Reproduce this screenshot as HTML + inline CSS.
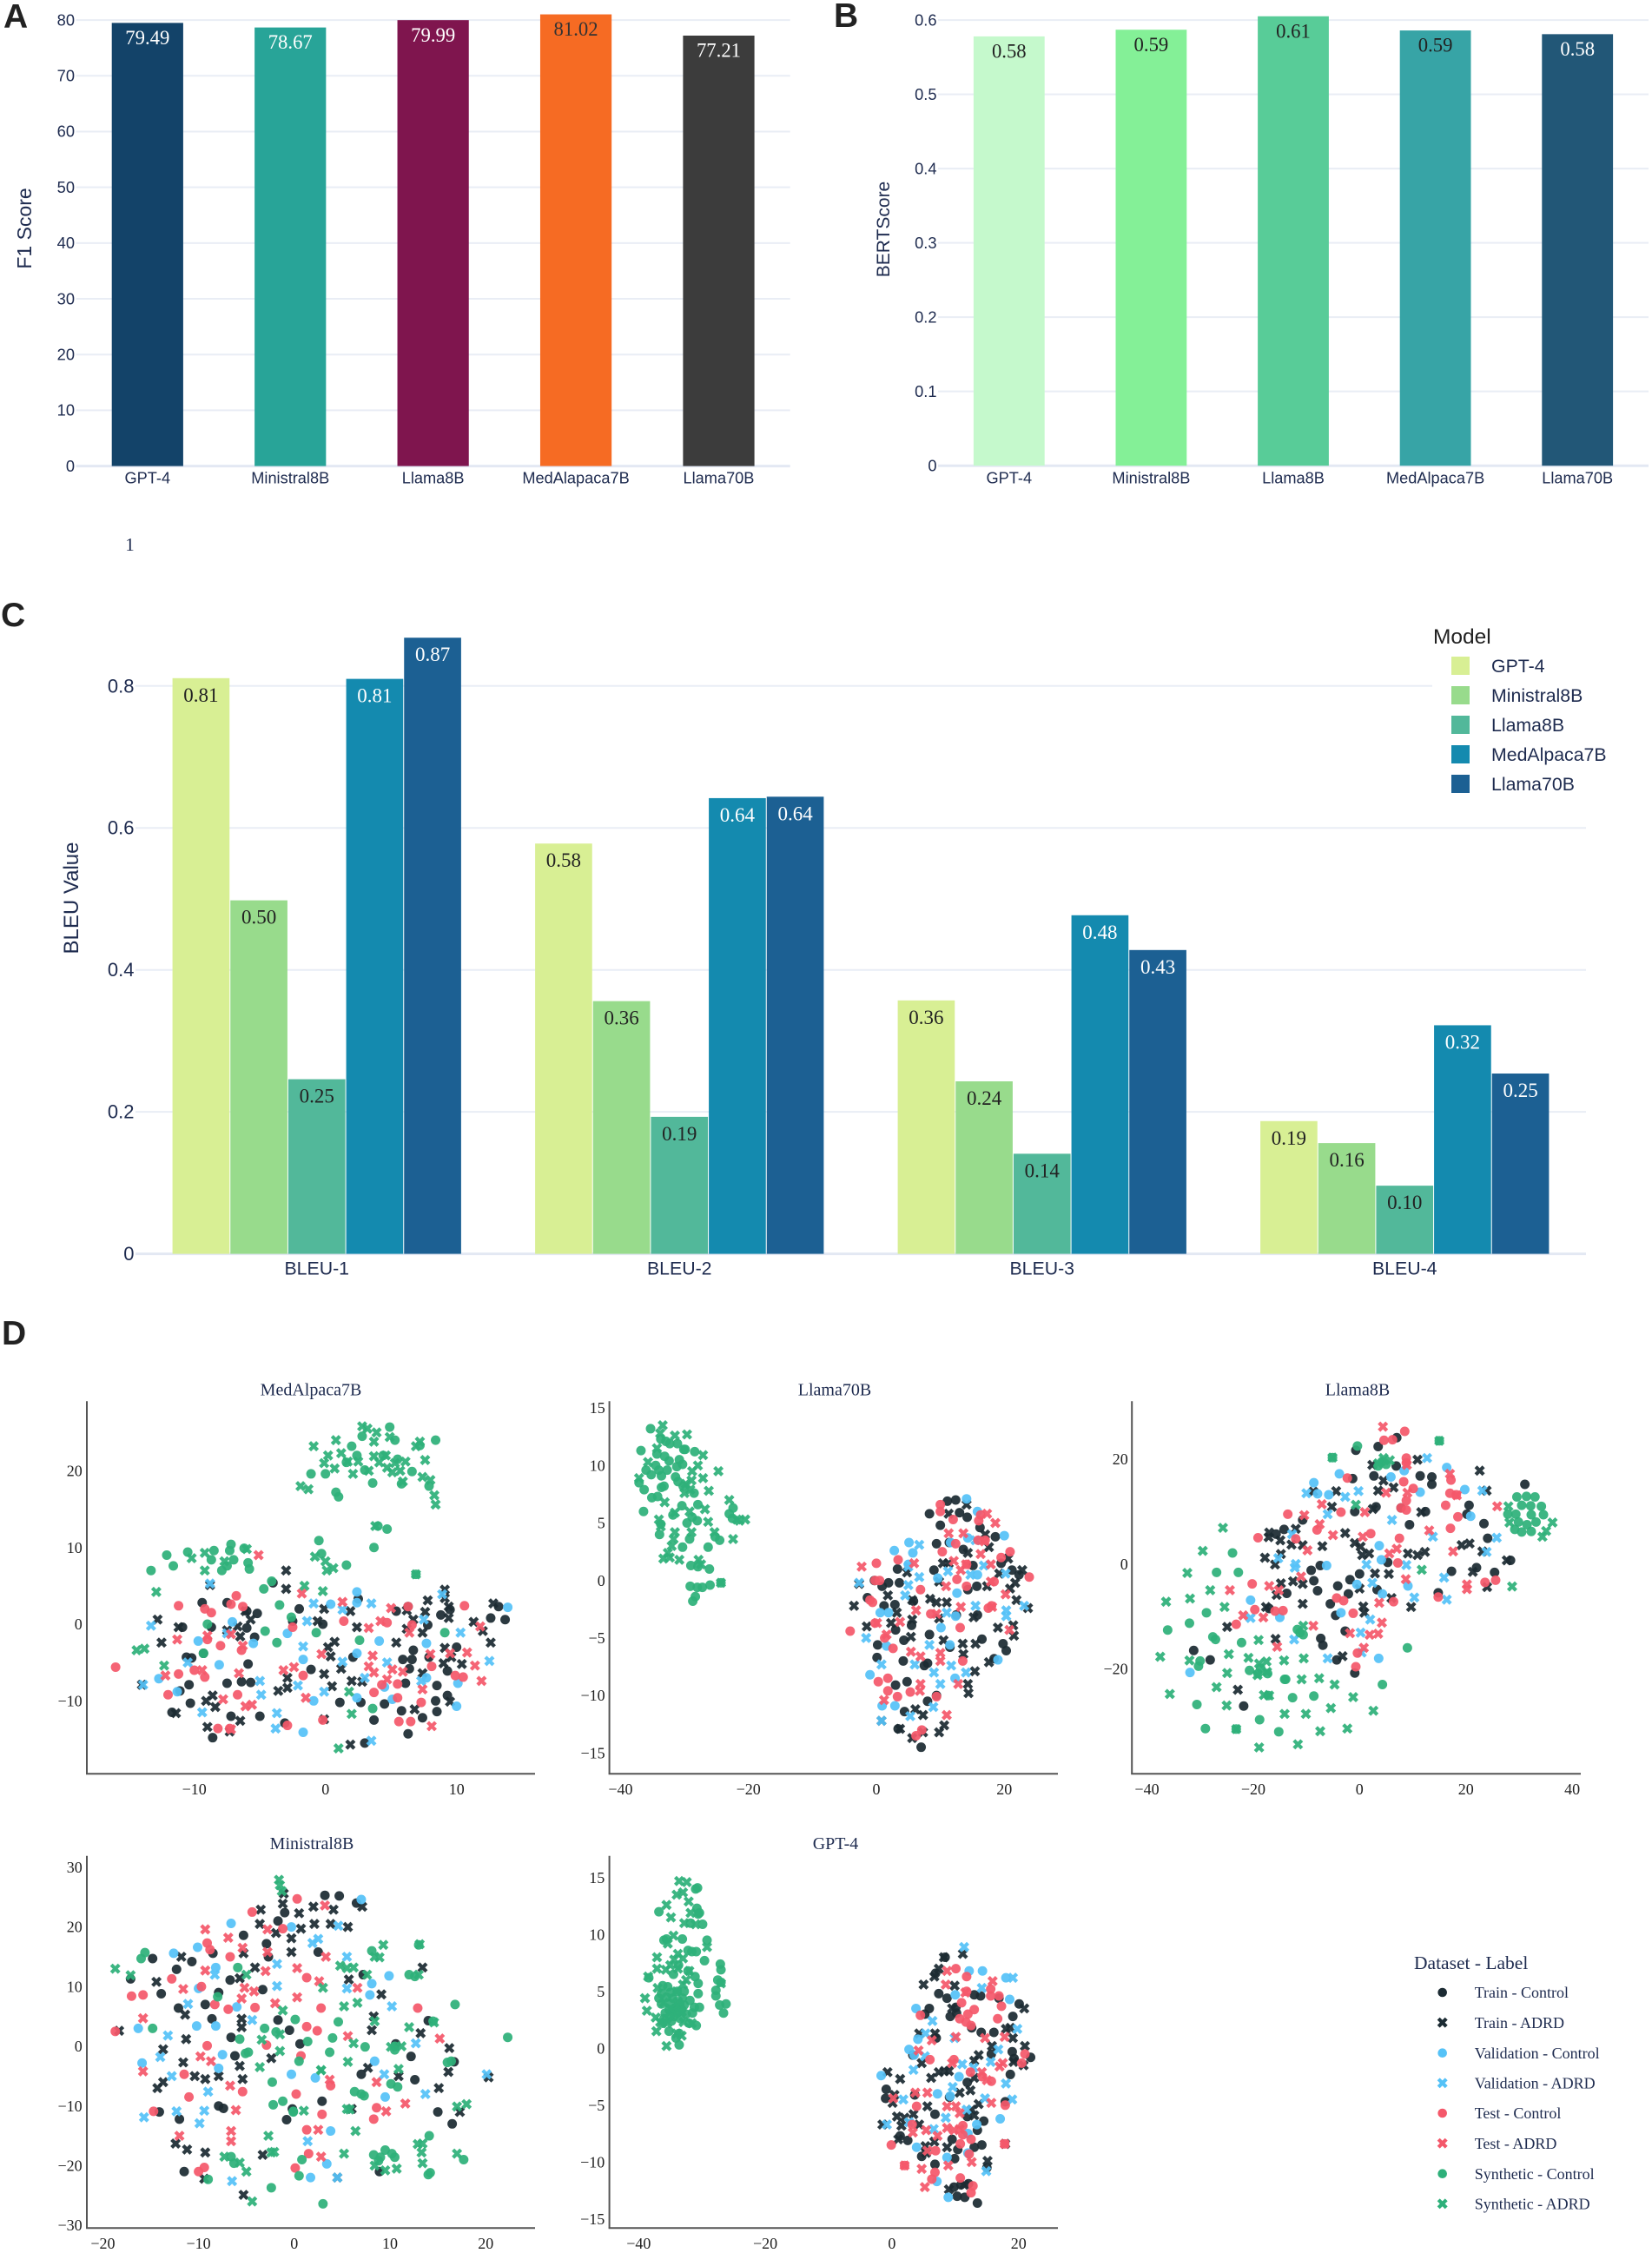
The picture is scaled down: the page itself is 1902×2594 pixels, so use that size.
<!DOCTYPE html>
<html lang="en">
<head>
<meta charset="utf-8">
<title>Model evaluation figure</title>
<style>
html,body{margin:0;padding:0;background:#fff}
svg{display:block}
.panel-letter{font-family:"Liberation Sans",sans-serif;font-weight:700;font-size:39px;fill:#222}
.sans-title{font-family:"Liberation Sans",sans-serif;fill:#1e2b4f}
.serif-title{font-family:"Liberation Serif",serif;fill:#1e2b4f;font-size:20px;text-anchor:middle}
.legend-text{font-family:"Liberation Sans",sans-serif;font-size:21.3px;fill:#1e2b4f}
.dlegend-text{font-family:"Liberation Serif",serif;font-size:18px;fill:#1e2b4f}
</style>
</head>
<body>
<svg id="figure" xmlns="http://www.w3.org/2000/svg" width="1902" height="2594" viewBox="0 0 1902 2594">
<rect x="0" y="0" width="1902" height="2594" fill="#fff"/>
<g id="charts"></g>
<text class="panel-letter" x="4" y="32">A</text>
<text class="panel-letter" x="960" y="31">B</text>
<text class="panel-letter" x="1" y="721">C</text>
<text class="panel-letter" x="2" y="1548">D</text>
<text x="149.5" y="634" font-family="Liberation Serif, serif" font-size="21" fill="#1e2b4f" text-anchor="middle">1</text>
<text class="sans-title" font-size="23" text-anchor="middle" transform="translate(36,263) rotate(-90)">F1 Score</text>
<text class="sans-title" font-size="21" text-anchor="middle" transform="translate(1024,264) rotate(-90)">BERTScore</text>
<text class="sans-title" font-size="24" text-anchor="middle" transform="translate(90,1034) rotate(-90)">BLEU Value</text>
<g id="bleu-legend">
<rect x="1649" y="715" width="200" height="205" fill="#fff"/>
<text x="1650" y="741" font-family="Liberation Sans, sans-serif" font-size="24.5" fill="#222">Model</text>
<rect x="1671" y="756" width="21" height="21" fill="#d8ef94"/>
<text class="legend-text" x="1717" y="774">GPT-4</text>
<rect x="1671" y="790" width="21" height="21" fill="#98db8c"/>
<text class="legend-text" x="1717" y="808">Ministral8B</text>
<rect x="1671" y="824" width="21" height="21" fill="#52b89a"/>
<text class="legend-text" x="1717" y="842">Llama8B</text>
<rect x="1671" y="858" width="21" height="21" fill="#148aaf"/>
<text class="legend-text" x="1717" y="876">MedAlpaca7B</text>
<rect x="1671" y="892" width="21" height="21" fill="#1c6093"/>
<text class="legend-text" x="1717" y="910">Llama70B</text>
</g>
<text class="serif-title" x="358" y="1606.5">MedAlpaca7B</text>
<text class="serif-title" x="961" y="1606.5">Llama70B</text>
<text class="serif-title" x="1563" y="1606.5">Llama8B</text>
<text class="serif-title" x="359" y="2129">Ministral8B</text>
<text class="serif-title" x="962" y="2129">GPT-4</text>
<g id="dataset-legend">
<text x="1628" y="2267" font-family="Liberation Serif, serif" font-size="21.5" fill="#1e2b4f">Dataset - Label</text>
<circle cx="1660.7" cy="2294" r="5.3" fill="#1c2b33"/>
<text class="dlegend-text" x="1697.7" y="2300">Train - Control</text>
<path d="M1656.2 2324.2L1665.2 2333.2M1656.2 2333.2L1665.2 2324.2" stroke="#1c2b33" stroke-width="4.2" fill="none"/>
<text class="dlegend-text" x="1697.7" y="2335">Train - ADRD</text>
<circle cx="1660.7" cy="2363.7" r="5.3" fill="#55c2f7"/>
<text class="dlegend-text" x="1697.7" y="2370">Validation - Control</text>
<path d="M1656.2 2393.8L1665.2 2402.8M1656.2 2402.8L1665.2 2393.8" stroke="#55c2f7" stroke-width="4.2" fill="none"/>
<text class="dlegend-text" x="1697.7" y="2404.5">Validation - ADRD</text>
<circle cx="1660.7" cy="2433" r="5.3" fill="#f4586a"/>
<text class="dlegend-text" x="1697.7" y="2439">Test - Control</text>
<path d="M1656.2 2463.2L1665.2 2472.2M1656.2 2472.2L1665.2 2463.2" stroke="#f4586a" stroke-width="4.2" fill="none"/>
<text class="dlegend-text" x="1697.7" y="2474">Test - ADRD</text>
<circle cx="1660.7" cy="2502.7" r="5.3" fill="#2eb07a"/>
<text class="dlegend-text" x="1697.7" y="2509">Synthetic - Control</text>
<path d="M1656.2 2532.8L1665.2 2541.8M1656.2 2541.8L1665.2 2532.8" stroke="#2eb07a" stroke-width="4.2" fill="none"/>
<text class="dlegend-text" x="1697.7" y="2543.5">Synthetic - ADRD</text>
</g>
</svg>
<script>
/* ---------- Panel A ---------- */
const f1Categories=['GPT-4','Ministral8B','Llama8B','MedAlapaca7B','Llama70B'];
const f1Values=[79.49,78.67,79.99,81.02,77.21];
const f1Ticks=[0,10,20,30,40,50,60,70,80];
/* ---------- Panel B ---------- */
const bertCategories=['GPT-4','Ministral8B','Llama8B','MedAlpaca7B','Llama70B'];
const bertValues=[0.578,0.587,0.6051,0.586,0.581];
const bertTicks=[0,0.1,0.2,0.3,0.4,0.5,0.6];
/* ---------- Panel C ---------- */
const bleuCategories=['BLEU-1','BLEU-2','BLEU-3','BLEU-4'];
const bleuGpt4=[0.811,0.578,0.357,0.187];
const bleuMinistral8b=[0.498,0.356,0.243,0.156];
const bleuLlama8b=[0.246,0.193,0.141,0.096];
const bleuMedAlpaca7b=[0.81,0.642,0.477,0.322];
const bleuLlama70b=[0.868,0.644,0.428,0.254];
const bleuTicks=[0,0.2,0.4,0.6,0.8];
/* ---------- Panel D: MedAlpaca7B ---------- */
const medTicksX=[-10,0,10];
const medTicksY=[-10,0,10,20];
const medTrainControl=[[-10.9,-.4],[-9.4,2.8],[-7.5,2.8],[-6,1.7],[-5.2,1.4],[-6,-.5],[-8.7,-.4],[-5.4,-1.7],[-10.6,-4.3],[-10.2,-4.4],[-9.3,-3.8],[-5.9,-5.2],[-10.4,-7.9],[-7.5,-7.7],[-6.4,-7.5],[-5.7,-7.6],[-11.1,-8.7],[-10.3,-10.3],[-11.7,-11.5],[-7.2,-12],[-5,-12],[-8.6,-14.8],[-3.1,-12.9],[-2,2],[-4,5.4],[-2.5,.4],[-.2,0],[2.5,3.3],[-1.1,-5.9],[2.1,-4.3],[1.1,-10.2],[2.7,-10.2],[3.7,-12.5],[3,-15.5],[4.5,-10.4],[5.4,1.7],[5.9,-4.6],[6.6,-4.6],[6.7,-3.4],[6.4,-5.8],[6.1,-7.7],[5.8,-11.3],[6.3,-14.3],[7.4,-12.2],[7.8,-.1],[7.9,-4.3],[8.5,-8],[8.4,-10],[8.5,-11.4],[8.8,1.2],[9.3,-9.3],[9.3,-6.1],[10,-3],[12.6,.8],[13.2,2.3],[13.7,.6],[9.5,1.9],[6.3,2.3]];
const medTrainAdrd=[[-12.8,.6],[-11.2,-.4],[-12.5,-2.4],[-8.8,5.1],[-3,7],[-3,4.6],[-.1,2],[-.6,.4],[1.9,1.7],[2.4,-.4],[-6.7,-.3],[-7.5,-.8],[-6.5,-1.6],[-5.7,.6],[-6.1,1.7],[.7,-2.3],[.2,-3],[.4,-4.2],[1.2,-5.8],[-.1,-6.5],[.5,-8.1],[2,-7.4],[2.8,-7.5],[-2.9,-7],[-3.6,-8.7],[-2.9,-8.3],[-8.6,-9.3],[-9.1,-10],[-8.4,-10.8],[-11.4,-11.6],[-9,-13.4],[-7.3,-14],[-6.5,-12.6],[-13.995,-7.9],[1.9,-15.7],[5.4,-2.4],[6.2,1.8],[6.7,.6],[6.2,-.6],[7.6,1.6],[7.8,3.1],[7.4,-1.1],[9.1,-3.1],[9.6,-4.3],[9,-5.1],[10.4,-5.2],[7.4,-6.4],[6.8,-11.1],[9.5,-10.1],[11.3,.3],[12,-.9],[12.6,-2.4],[12.8,2.7],[9.1,4.5],[9.1,3.4],[9.4,2.3],[9.4,.8],[-.1,-12.4]];
const medValControl=[[-7.1,.3],[-9.7,-2.2],[-8.1,-5.3],[-5.5,-2.5],[-12.7,-7.1],[-11.3,-8.8],[-2.9,-1.2],[.4,2.6],[-1.7,-4.6],[-.9,-10],[-1.7,-14.1],[2.4,4.2],[2.4,2.8],[2.4,-3.8],[4.1,-2.2],[7.7,-2.5],[7.7,-7],[4.5,-8.2],[2.4,-9.6],[5.1,-9.8],[10.1,-7.7],[13.9,2.2],[10,-10.7]];
const medValAdrd=[[-13.3,-.2],[-8.8,5.3],[-7.5,-1.2],[-13.9,-7.9],[-10.5,-5],[-9.4,-11.5],[-5,-7.4],[-4.9,-9.2],[-3.7,-11.6],[-3.8,-13.6],[-1.7,-2.9],[-1.4,.4],[-.9,2.7],[-2.1,-8],[-.1,-8.8],[1.3,1.9],[1.3,-4.9],[3.5,2.7],[3,-7],[4.7,-5],[3.5,-15.2],[7.5,.6],[8.9,3.9],[10.3,-1.1],[12.5,-4.8],[7.3,-7.4]];
const medTestControl=[[-16,-5.6],[-11.2,2.4],[-9.2,2],[-8.7,1.5],[-6.8,3.7],[-7.2,2.6],[-6.3,2.3],[-9,-2],[-8,-2.8],[-6.4,-3.4],[-2.5,-.4],[-11.2,-6.5],[-10,-6],[-9.2,-6.9],[-12,-9.2],[-6.7,-9.2],[-8.2,-13.6],[-7.3,-13.6],[-2.9,-13.2],[-1.7,-6.7],[-.2,-12.5],[1.4,.4],[6.3,2.3],[4.7,.2],[6.6,-.1],[8.1,-5.5],[4.3,-7.9],[5.5,-7.8],[3.7,-8.9],[5.5,-9.6],[7.3,-10.2],[5.6,-12.7],[6.5,-12.7],[9.9,-6.7],[10.5,-6.9],[10.6,2.4]];
const medTestAdrd=[[-5.1,9],[-1.8,4],[1.3,2.9],[5,2.1],[3.3,-.5],[4.2,.4],[6.4,-1.1],[9.5,-3.8],[11.8,-.3],[10.8,-3.7],[11.4,-5.4],[11.9,-7.4],[8,-3.9],[3.6,-4.1],[3.3,-5.5],[3.7,-6.3],[5.1,-5.9],[5.9,-6.2],[4.7,-7.2],[7.4,-8.5],[8.1,-13.3],[-.3,-3.9],[-3.2,-6],[-2.4,-5.6],[-1.5,-9.6],[-5.6,-10.5],[-6.1,-10.7],[-7.8,-9.8],[-6.6,-6.4],[-7.2,-13.7],[-12.2,-6.7],[-9.4,-6],[-11.3,-2],[-9,-1.5],[-7.2,-1.3],[-6.3,-2.8]];
const medSynthControl=[[-13.3,7],[-12.1,9],[-11.6,7.6],[-10.5,9.4],[-8.7,8.4],[-8.5,9.6],[-7.9,7],[-7.5,7.6],[-7,8.4],[-7.2,10.4],[-7.3,9.6],[-6.2,9.9],[-5.9,8],[-5.8,7.2],[-4.1,5.6],[-4.7,4.6],[-3.5,2.5],[-2.6,.9],[-9,0],[-4.6,-.9],[-3.7,-2.4],[-.7,-1.1],[-9.3,-3.8],[-.5,10.9],[-.3,9.2],[1.6,7.7],[3.7,10],[4.7,12.4],[4,12.8],[6.9,6.5],[2.6,-2.1],[9.1,-1.1],[3.6,-11],[-1.1,19.6],[0,19.6],[.8,17.2],[1,16.6],[2,23.2],[2.8,24.5],[4.9,25.7],[5.3,24],[3.6,18.4],[5.8,18.3],[8.4,24],[6.6,19.9],[7.2,23.3],[7.9,18],[3,20.1],[1.6,21.1],[2.4,22],[4.4,22],[5.5,21.5]];
const medSynthAdrd=[[-14.4,-3.4],[-13.8,-3.2],[-12.9,4.2],[-12.3,-5.4],[-10.2,8.6],[-9.2,9.3],[-9.2,7],[-7.7,8.2],[-6,9.8],[-1.6,5],[-.2,4.3],[-.8,8.8],[0,8.2],[.1,7],[.6,7.3],[1.8,-8.8],[2,-11.7],[1,-16.2],[-.9,23.2],[.8,24],[.2,22],[-.1,21],[.7,20.3],[1.2,22.3],[2.1,19.6],[2.8,25.8],[3.2,25.5],[3.9,25],[3.7,23.8],[4.9,24.4],[3.7,21.9],[4.1,21.1],[4.7,20.4],[5.1,19.8],[5.7,20],[6.1,21.2],[7.2,23.8],[6.9,23.2],[7.6,21.4],[7.4,19.2],[8,18.8],[5.9,18.6],[-1.9,18],[-1.3,17.6],[8.3,16.8],[8.4,15.6],[3.8,12.8],[6.9,6.5],[3.3,20],[2.5,21.2],[4.6,22],[5.3,21],[1.7,21.2]];
/* ---------- Panel D: Llama70B ---------- */
const l70TicksX=[-40,-20,0,20];
const l70TicksY=[-15,-10,-5,0,5,10,15];
const l70TrainControl=[[11.1,6.9],[12.4,7],[8.3,5.8],[13,5.9],[14.2,5.5],[10,4.8],[16.2,4.6],[18.6,3.8],[9.4,3.2],[11.4,3.3],[13.6,2.7],[9,.9],[15.1,1.3],[19.5,1.5],[21.2,.9],[22.3,.5],[3.3,1],[-.3,0],[.9,-.5],[1.9,-.2],[3.6,-.2],[14.3,-.8],[15.7,-.5],[-1.4,-1.5],[1.2,-2.2],[2.9,-2.1],[5.8,-1.8],[12.5,-3],[15.8,-3],[5.5,-3.9],[3,-4.3],[8.3,-4.7],[4.3,-5.2],[.2,-5.6],[16.5,-5.1],[11.5,-5.8],[19.8,-5.5],[20.3,-6.1],[.1,-6.7],[4.2,-7],[8,-7.2],[7.5,-7.4],[3,-9.1],[4.8,-8.8],[9.4,-10],[8,-10.5],[4.4,-11.4],[3.4,-12.9],[7,-14.5],[18.4,-6.8]];
const l70TrainAdrd=[[-3.5,-2.2],[-1.5,-4],[1.8,-1.3],[4.8,.7],[5.6,-1.7],[3.2,-2.8],[2.3,-3.7],[5.6,-3.4],[5.4,-4.9],[9.8,-3.3],[8.4,-1.6],[9.4,-1.9],[11,-1.9],[11.3,5.8],[14.1,6.6],[17,4],[17.6,2.9],[14.3,2.4],[10.4,1.5],[11.3,1.5],[9.8,-.1],[17.3,-.5],[19.2,.6],[20.9,-.7],[21.7,-.2],[22.8,.9],[20.6,1.9],[21.9,-1.7],[23.7,-2.4],[15.2,-3.2],[19,-4.1],[21.4,-3.9],[21.5,-4.8],[10.5,-5.2],[13.5,-5.5],[15.5,-5.5],[13.6,-6.4],[17.6,-7.1],[15.4,-7.9],[14.3,-9],[14.4,-9.8],[10.6,-12.6],[9.8,-13.2],[7.3,-11.7],[6.1,-11.2],[5.6,-13.7],[7.3,-13.2],[3.7,-12.9],[.8,-12.2],[-2.7,-.3]];
const l70ValControl=[[14.1,7.1],[15.8,6],[14.3,3.7],[20,3.9],[11.6,3.3],[5.1,3.3],[2.8,2.6],[5.7,2.4],[5,1.4],[9.6,.2],[12.6,-1.1],[15.8,.5],[.6,-2.8],[1.9,-2.8],[12.4,-3.1],[10.1,-4.1],[11.5,-5.6],[1.6,-5.7],[19,-6.9],[-1,-8.2],[12.3,-8.5],[.9,-10.9],[2.9,-10.9]];
const l70ValAdrd=[[6.7,3.1],[5,1.2],[6.7,.3],[5,-.4],[4.5,-1.3],[-2.7,-.2],[11.2,.8],[14.7,.5],[15.5,3.5],[16.8,1.3],[20.2,.6],[15.5,-2.2],[11,-2.8],[20.3,-2.6],[20.3,-3.1],[23.1,-2.2],[-1.6,-5],[8.3,-5.6],[.8,-7.3],[6,-7.3],[11.7,-7.4],[9,-8],[14,-8],[10,-9],[8.9,-11],[.8,-12.2],[5.3,-11.8]];
const l70TestControl=[[-4.1,-4.4],[0,1.5],[3.4,1.8],[-.2,0],[.5,0],[-1,-1.7],[-.6,-1.9],[-.2,-3.7],[1.3,-5],[2.6,-5.9],[6.9,-.8],[8.5,-2.9],[10,6.6],[10,6],[12,5.3],[16.3,5.7],[16,5.2],[15.9,3.5],[17,3.5],[12.4,3.2],[10.3,2.5],[12.6,.1],[14.1,1.4],[14.1,-.5],[18.4,-.1],[18,-2.2],[17.5,-2.4],[13.1,-4.1],[20.9,2.5],[19.5,2],[23.9,.3],[13.5,-7],[.3,-8.8],[1.8,-8.5],[1.8,-9.6],[3.3,-10.1],[5.3,-9.7],[9.4,-10.1],[7.1,-13],[6.2,-13.5]];
const l70TestAdrd=[[-2.3,1.2],[.1,-3.7],[1.6,-4.7],[3.7,-3.6],[6.2,-2.6],[9.4,-2.9],[13.2,-2.3],[18.1,-2.3],[10.9,-.5],[17.9,-.1],[20.2,-1.2],[20.8,-4.3],[5.9,1.5],[11.3,4.1],[13.6,4.1],[17.3,5.8],[18.6,5],[16.9,3.4],[16.3,2.3],[12.1,1.7],[14,1.4],[13.2,.9],[17.9,1.4],[5.4,-6.2],[6.9,-6.6],[10,-6.3],[10,-7],[1.2,-10.4],[6.9,-9],[6.8,-9.6],[12.8,-9],[11,-11.7]];
const l70SynthControl=[[-35.3,13.2],[-33.7,12.3],[-32.9,12.1],[-36.8,11.3],[-34.3,11],[-32.3,11.9],[-31.1,11.9],[-30.1,11.4],[-29.9,11.4],[-28.4,11.2],[-33.1,10.8],[-32.4,10.4],[-30.8,10.5],[-30.3,10.1],[-31.2,9.9],[-34.5,10],[-34,9.6],[-36,9.6],[-33.6,9.1],[-35.2,9.2],[-32.7,9.6],[-31.4,9],[-31,8.6],[-30.2,8.2],[-33.6,8.1],[-33.2,8.2],[-36.3,7.9],[-35.1,7.2],[-34.2,7.3],[-28.5,7.6],[-36.4,6],[-30.4,6.5],[-27.9,6.6],[-22.4,6.3],[-23,5.8],[-31.8,5.7],[-28,5.2],[-28.8,5.5],[-29.6,5],[-33.7,4.9],[-33.9,4],[-25.2,3.8],[-24.5,3.5],[-29.2,3.6],[-26.3,2.9],[-30.3,2.9],[-29,1.3],[-27.9,1.2],[-26.1,1],[-29.1,-.5],[-28,-.6],[-27.2,-.6],[-26,-.4],[-24.3,-.2],[-28.3,-1.4],[-28.7,-1.8],[-22.5,5.4],[-37.1,8.5]];
const l70SynthAdrd=[[-33.4,13.5],[-33.8,12.8],[-31.5,12.6],[-29.6,12.7],[-34.3,11.5],[-27.1,10.9],[-27.9,10],[-28.8,9.5],[-37.1,8.9],[-35.7,10.3],[-28.9,8.7],[-27.1,8.9],[-29.8,8.4],[-29.1,7.9],[-30,7.6],[-26.2,7.8],[-24.7,9.5],[-23,7],[-33.1,6.8],[-31.5,5.9],[-26.8,6.2],[-29.2,6],[-34,5.3],[-33.7,4.7],[-26.3,5.1],[-31.5,4.2],[-28.9,4.2],[-25.3,4.2],[-22.4,3.6],[-31.7,3.6],[-32,3],[-32.6,2.4],[-33.3,1.9],[-32.3,2],[-30.8,1.8],[-27.8,1.8],[-27.4,1.4],[-24.3,-.2],[-21.8,5.3],[-20.5,5.3],[-21.4,5.2]];
/* ---------- Panel D: Llama8B ---------- */
const l8TicksX=[-40,-20,0,20,40];
const l8TicksY=[-20,0,20];
const l8TrainControl=[[3.5,22.4],[7,24.1],[-.7,21.7],[-1.3,16.3],[2.7,16.8],[6.9,18.7],[11.4,16.8],[13.6,16.6],[13.6,15.2],[31.1,15.2],[20.6,11.2],[20.2,9.5],[23.4,7.7],[24.1,4.9],[3.1,10.9],[-.9,10],[7.8,10.7],[12.4,10],[9.4,7.5],[-10.7,8.4],[-14.2,6.6],[-15.7,5.7],[-7.4,-.3],[-9.1,-1.2],[-8.6,-3.2],[-7.9,-5.1],[-1.8,-3],[0,-1.9],[-4.1,-4.2],[-2.1,-5.7],[-5.5,-7.6],[-4.5,-9.8],[-2.7,-12.8],[-7.3,-14.2],[-6.9,-15.5],[-4.3,-18.3],[-.9,-20.8],[5.3,.3],[3.3,-4.9],[17.3,-1.4],[22,-.7],[25.4,-1.6],[14.8,-5.5],[28.4,.7],[-13.7,-5.6],[-17,-8.5],[-31.2,-16.5],[-28.1,-18.3],[-21.8,-27.1]];
const l8TrainAdrd=[[-8.7,13.8],[-4.4,13.9],[-5.2,10.9],[2.4,18.9],[4.5,15.9],[3.5,14],[6.4,14.6],[10.9,19.9],[11.6,9.9],[2.5,10.5],[22.6,17.8],[23.9,14],[23.1,2.4],[20.7,3.9],[19.2,3.6],[21.3,-1.5],[24,-4.4],[27.7,.7],[12.3,2.3],[10.9,1.7],[9.1,2],[-.9,4],[.2,3.3],[.5,1.7],[1.8,2],[2.9,-1.8],[5.5,-1.9],[6,-6.5],[9.7,-8.2],[.7,-8.1],[.9,-9.3],[0,-4.7],[-2.7,5.9],[-7,3.4],[-12,6.7],[-17,6],[-17.1,5.1],[-14.9,4.5],[-12.8,3.7],[-10.7,3.6],[-14.8,1.9],[-17.8,1.2],[-15.9,-.1],[-14.8,-3.7],[-12.5,-3.3],[-10.7,-3.8],[-15.6,-5.9],[-10.7,-7.6],[-17.6,-8.2],[-24.9,-12],[-15.8,-14.3],[-3.2,-17.6],[-22.9,-24]];
const l8ValControl=[[8.4,17.8],[5.9,16.6],[-3.8,17.2],[-8.6,15.5],[-7.9,13.4],[-5.8,13.2],[11.4,13.7],[16.4,18.4],[19.8,14.2],[20.9,9.1],[3.7,3.5],[4.1,.8],[-6.2,-.3],[-.5,-3.9],[4.3,-5.7],[9.1,-4.2],[-20.5,-6.9],[-15,-10.2],[-3.5,-9.3],[3.6,-18],[-31.9,-20.7]];
const l8ValAdrd=[[12.7,20.2],[-.2,13.9],[-2.7,12.8],[-10,13.5],[-6,9.5],[6.1,8.4],[13.8,5.2],[23.1,14],[25.8,5],[23.9,2.3],[-12.7,5.7],[-15.3,1.1],[-12,0],[-12.2,-.7],[1.3,-.1],[8.8,-.2],[15.9,-2.6],[2.4,-3.6],[10.3,-6.4],[16.4,-6.8],[-20.5,-10.3],[2,-10.6],[.2,-13.1],[-12.3,-14.4],[-6,-18],[.4,-16.9]];
const l8TestControl=[[8.5,25.3],[4.6,23.6],[6.2,23.7],[8.8,20.2],[8.8,19.3],[-2.3,16.4],[8.3,15.7],[10.1,14.4],[8.8,12.1],[8.8,10.3],[7.8,10.7],[16.2,11.2],[17,13.5],[18.2,13.2],[17.2,16],[18.5,9],[17.1,6.8],[-13.5,9.5],[-3.5,9.9],[-8,6.5],[-12,4.8],[-19.1,5],[2.1,5.8],[7.5,4.9],[7.2,.2],[-20.2,-3.8],[-4.3,-6.5],[-3,-7],[6.4,-7.2],[14.8,-6.3],[23.6,-3.5],[25.6,-3.1],[-19.7,-8.7],[-15.9,-9],[-14.4,-8.9],[-1.2,-9.4],[-23.2,-11.5],[-.4,-17],[-.7,-19.6]];
const l8TestAdrd=[[4.4,26.2],[8.9,18.9],[17,17.2],[18.3,13.1],[25.9,11],[9,13.6],[5,13.6],[-7.1,11.4],[-10.4,9.3],[1,9.9],[-7.5,7.6],[-5,5.5],[.6,5.2],[13.1,6.4],[7,2.9],[5.6,2],[17.6,2.4],[-9.8,2.6],[-11,-2.4],[8.7,-2.9],[20.2,-3.9],[20.2,-4.8],[-24.4,-5],[-17,-4.2],[-15.2,-5],[3.7,-7.4],[-21.9,-9.8],[-18.1,-10.2],[4.2,-11.2],[-8.7,-11.8],[1.9,-13.5],[3.5,-13.3],[-1.8,-13.2],[.8,-16],[-15.5,-15.8]];
const l8SynthControl=[[-.4,22.5],[-5.1,20.3],[15,23.5],[29.6,12.8],[31.4,12.9],[33,12.8],[30.5,11.2],[32.2,11.1],[34.2,11],[29.4,9.5],[32.3,9.4],[34.6,9.4],[27.9,9.5],[29.9,8],[31.5,7.5],[33.2,8],[29.2,6.6],[30.5,6.1],[32.3,6.2],[4.2,19.5],[5,19],[3.5,18.7],[-23.9,2.1],[-26.9,-1.6],[-22.8,-1.6],[-28.8,-9.3],[-32,-11.3],[-36.1,-12.6],[-27.6,-13.9],[-27.1,-14.4],[-22.2,-15],[-11.7,-12.5],[-10.6,-13.5],[-11.2,-13.1],[9,-16],[-30,-18.5],[-30.3,-19.5],[-20.7,-20.3],[-18.6,-19.9],[-14.1,-22],[-17.3,-20.9],[-19.1,-20.9],[4.3,-23],[-13.9,-22],[-17.2,-25.1],[-12.6,-25.5],[-8.6,-25.2],[-30.6,-26.8],[-18.8,-29.7],[-29,-31.4],[-15.2,-32],[-23.2,-31.5]];
const l8SynthAdrd=[[-.7,11.3],[28.2,7.9],[36.3,7.9],[35.1,6.3],[34.4,5.2],[28,11],[4.5,20.2],[3.5,19.2],[5.7,19.8],[-5.1,20.3],[15,23.5],[-25.7,6.9],[-29.5,2.5],[11.7,-1.1],[28.7,-4.3],[-32.4,-1.7],[-28.1,-5],[-31.9,-6.6],[-36.4,-7.2],[-25.4,-8.2],[-10.6,-11.8],[-19,-14.5],[-24.6,-17.2],[-20.9,-17.9],[-37.5,-17.7],[-32,-18.4],[-14.2,-18.4],[-10.5,-18],[-17.5,-18.6],[-18.9,-19],[-19.2,-21.2],[-17.4,-20.6],[-24.9,-20.8],[-7.6,-21.8],[-10.9,-22],[-4.7,-23],[-26.9,-23.5],[-18,-25],[-17,-25.1],[-1.2,-25.4],[-35.7,-24.8],[-25,-27],[-14.1,-28.6],[-10.1,-28.6],[-5.4,-27.5],[2.6,-28],[-23.2,-31.5],[-7.4,-31.9],[-2.3,-31.4],[-18.9,-35],[-11.6,-34.4]];
/* ---------- Panel D: Ministral8B ---------- */
const minTicksX=[-20,-10,0,10,20];
const minTicksY=[-30,-20,-10,0,10,20,30];
const minTrainControl=[[-17.1,11.3],[-14.8,14.7],[-13.9,8.8],[-12.3,12.9],[-10.7,14.2],[-12.1,6.4],[-9.3,7],[-8.5,15.6],[-7.9,9],[-6.7,11.1],[-5.3,18.6],[-2.9,17.2],[-3.3,9.5],[-8.6,4.6],[-6.6,1.5],[-6.2,-1.6],[-1.7,4.4],[-.5,2.7],[.6,.4],[-1.7,21],[-1,22.4],[2.5,15.8],[3.2,25.3],[4.7,25.2],[6.5,24],[7.2,12],[-2.7,15],[-7.9,-10],[-7.4,-10.4],[-14.1,-11],[-12,-12.2],[-.8,-12.3],[-.2,-10.5],[2.9,-9.2],[7,-4.7],[12.6,-5.6],[15,-11],[10.6,.4],[12.2,-1.7],[14,4.3],[16.7,-2.6],[16.5,-13],[-11.5,-21],[8.9,-21]];
const minTrainAdrd=[[-18.3,2.6],[-14.4,10.8],[-11.8,15],[-11.4,5.3],[-11.3,1.2],[-13.7,-.5],[-11.6,-2.7],[-10.4,-5],[-9.3,-5.5],[-7.9,-5],[-14.3,-7],[-13.7,-6],[-5.7,11.4],[-5.3,15.6],[-4.1,13.2],[-3.6,20.5],[-3.5,22.9],[-1.9,19],[-1.1,25.6],[-1.2,23.9],[.5,22.3],[-.3,18.1],[.7,19.7],[-.3,15.8],[2,23.4],[2.1,20.5],[3.8,20.5],[4.1,22.9],[5.6,20],[7.1,23.4],[5.7,11.2],[9.1,8.7],[13.4,13.2],[8.3,5],[8.1,2.7],[13.2,2.2],[16.2,-.3],[16.1,-4.3],[7.7,-3.6],[10.9,-5],[15.1,-7],[20.3,-5.2],[6,-10.5],[17.3,-11],[-12.4,-16.3],[-11.2,-17.3],[-9.3,-17.8],[-3.3,-18.2],[-9.4,-22.2],[-5.3,-24.9],[4.5,-22],[-5.5,4.6],[-5.5,3.2],[-5.7,-3.3],[-5.4,-5.5],[-2.4,-2]];
const minValControl=[[-6.6,20.6],[-12.6,15.6],[-10.1,16.6],[-8.2,13.2],[-10,9.7],[-6,6.6],[-10.2,3.4],[-8.2,3.4],[-16.3,3],[-7.5,-1.4],[-15.9,-2.8],[-7.9,-3.7],[7,24.6],[-.3,20],[7.9,8.6],[8.1,10.5],[9.9,11.8],[8.4,-2.5],[-.3,-4.7],[2.2,-5.3],[9.5,-8.5],[3.8,-14.2],[3.4,-19.7],[1.7,-22]];
const minValAdrd=[[-8.3,12],[-11.1,7.1],[-4.4,4.4],[-13.2,1.8],[-14,-1.8],[-12.8,-5],[-9,-7.6],[-12.3,-10.9],[-15.7,-11.9],[-9.4,-10.8],[-9.9,-12.9],[-1.8,13.8],[-1.8,10.1],[2.5,18],[1.9,17.3],[4.6,20.2],[5.5,15],[5.5,9.7],[10.2,6.7],[12.7,.5],[9.4,-4.7],[13.7,-8],[20.1,-4.7],[1.4,-15.9],[4.5,-22],[-6.5,-22.6]];
const minTestControl=[[-18.7,2.5],[-17,8.4],[-15.8,8.6],[-12.8,11.3],[-9.7,10],[-9.1,17.3],[-8.8,16.2],[-6.7,15],[-8.3,7],[-6.9,6.2],[-4.1,6.5],[-4.4,22.5],[.3,24.7],[-1.2,19.7],[1.3,11.5],[2.8,6.4],[1.3,3.3],[2.4,2.6],[-9.1,.1],[-2.9,.2],[.7,-1.6],[3.8,-6.6],[-5.4,-7.6],[-11.5,-4.7],[-11,-8.5],[.2,-8],[-14.7,-10.9],[2.9,-11.4],[8.6,-10.3],[8.3,-12.2],[1.3,-14],[12.9,6.4],[1.5,-18],[.1,-20.4],[-9.4,-20.3],[-10,-21]];
const minTestAdrd=[[-15.8,4.7],[-11.6,9.6],[-9.3,19.6],[-9.3,12.7],[-6.9,18.2],[-5.4,16.5],[-5.2,9.8],[-4.2,9.2],[-5.5,8],[-2.8,19.6],[-2.8,15.8],[-3,12.6],[-2,7.2],[.3,8.2],[.3,13.1],[3.2,23.6],[3.3,15],[2.6,10.9],[6.6,9.8],[5.6,1.7],[15.2,1.3],[-9.8,-1.7],[-8.7,-2.5],[-15.8,-4.2],[-6.7,-6.6],[3.7,-5.6],[8.6,-6],[9.6,-10.9],[11.6,-9.6],[-6.1,-10.7],[-12,-15],[-6.6,-14.2],[-6.6,-15.9],[2.5,-14],[2.8,-18.5]];
const minSynthControl=[[-15.6,15.7],[-16,14.7],[-5.9,13.2],[-8,8.3],[-3.1,3],[-1.9,2.4],[-5.7,1.2],[-5.1,-1.2],[-4.8,-1],[.1,4.5],[1.4,.8],[4.6,4.1],[4,1.4],[3.7,-1],[7.4,-.1],[8.1,16],[12,12],[12.6,11.7],[13,17],[16.8,7],[14.5,4.2],[22.3,1.5],[10.5,0],[10.5,-.6],[.5,-2.5],[-2.3,-6],[-14.8,3],[-1.2,-9.2],[-2.2,-9.8],[-.1,-10.9],[6.3,-7.6],[7,-8],[7.3,-8.3],[10.1,-6.3],[10.8,-6.8],[16.4,-2.5],[16,-2.7],[14.1,-15],[9.5,-17.4],[8.3,-18.2],[9,-18.6],[10.2,-18],[10.5,-18.6],[8.8,-19.2],[17.7,-19],[14.2,-21.2],[14,-21.5],[-6.6,-18.5],[-6.3,-19.6],[-2.4,-23.7],[.5,-21.7],[.8,-19],[3,-26.4],[-9,-22.3],[-.1,-11]];
const minSynthAdrd=[[-18.7,13],[-17.1,11.9],[-5,12],[-1.2,6],[-3.4,1.1],[-1.5,2],[-1.5,-.8],[-3.6,-3.5],[-1.6,27.9],[-1.5,27],[-1.3,26],[4.8,13.5],[6.2,13.2],[5.5,13.1],[7.6,12],[9.3,17],[8.4,15],[8.9,14.9],[13.1,17.1],[3,9.8],[5.2,6.7],[6.6,7.3],[8.4,4.2],[12,3.2],[14.6,4],[6.2,.5],[10.1,-.1],[11.2,0],[5.6,-2.6],[2.8,-4],[10.9,-3.8],[13,12],[5.5,-10.5],[5.8,-10.6],[17,-10.1],[18,-9.7],[6.4,-14.2],[-2.7,-15],[-2.4,-17.8],[-2.1,-17.7],[5.2,-18],[12.9,-16.4],[13.4,-16.3],[13.3,-17.8],[13.4,-19.6],[17,-18],[-7.3,-18.5],[-5.7,-19.5],[-5,-21],[9.5,-20.8],[10.7,-20.5],[8.4,-20],[-4.4,-26],[1,-10.8],[2.8,-4]];
/* ---------- Panel D: GPT-4 ---------- */
const gptTicksX=[-40,-20,0,20];
const gptTicksY=[-15,-10,-5,0,5,10,15];
const gptTrainControl=[[8.4,8],[6.9,6.6],[7.4,4.8],[8.7,4.4],[10.1,3.6],[9.2,2.8],[10.2,3.1],[5.9,3.5],[5.2,3],[13,4.7],[14,4.6],[16.9,4.4],[20.1,3.9],[19.1,2.8],[12.6,1.8],[14.1,1.4],[16.1,1.4],[7,.9],[15.7,-.5],[19,-.3],[19.3,-.9],[21.9,-.8],[3.3,-.6],[18.7,-2.3],[11.9,-3],[-.9,-3.6],[-1,-4.4],[3.6,-4.1],[9.1,-4.3],[17.9,-4.7],[6.8,-5.8],[11.9,-6],[14.5,-6.4],[13.5,-7.2],[1.3,-7.7],[2.5,-8.1],[9.5,-8],[13,-8.7],[14.2,-8.5],[4.7,-9.5],[10.4,-8.9],[6.8,-10.2],[9.9,-9.7],[15,-10.5],[9.8,-12.2],[10.9,-12],[12.1,-11.9],[10.3,-13],[11.5,-13.1],[13.5,-13.6]];
const gptTrainAdrd=[[8.2,8],[11.2,8.3],[7.4,7],[6.7,6.3],[5,5.6],[9.9,5.5],[9.5,3.5],[4.3,1.3],[6.8,1.3],[18.7,1.8],[18,1.7],[19.1,.9],[20.9,3.5],[21,.2],[13.7,-.6],[13,-1.1],[15.8,.2],[19.2,-1.2],[20.8,-1.5],[4.7,-1.3],[-.7,-2.1],[1.3,-2.7],[6.2,-2.6],[7.4,-2.1],[8.3,-2],[9,-2],[13,-2.6],[.4,-4.1],[10.7,-3.9],[12.4,-3.7],[.1,-4.8],[5.6,-5.1],[13.7,-4.9],[12.6,-5.4],[.8,-6],[2,-6.1],[3.4,-5.8],[-1.5,-6.7],[1.5,-6.8],[4.3,-6.7],[1,-8],[6.7,-8.2],[5.3,-8.6],[8.7,-8.7],[15.1,-9.9],[13,-5.9],[17.9,-8.4],[9,-12.4],[11.4,-12],[5.4,-9.2]];
const gptValControl=[[12.2,6.8],[14.3,6.8],[18,6.2],[18.6,4.3],[10,4.7],[3.8,3.5],[4.1,.8],[2.7,-.1],[3.5,-.6],[10.6,-2.5],[-1.7,-2.4],[7.2,-4],[9.2,-4.2],[17.1,-6.2],[13.4,-6.7],[3.9,-8.7],[12,-7.5],[8.7,-9.6],[12,-9.2],[7.1,-11.7],[8.9,-13.1]];
const gptValAdrd=[[11.4,8.9],[14.2,5.3],[19.1,6.2],[9.9,.9],[6.4,2.4],[5.3,1.3],[19.8,1.7],[5.2,-.7],[16.8,-.1],[11.1,-1.4],[12.9,-1.7],[15.6,-1.2],[3.4,-1.9],[9.6,-3.4],[14.7,-4.4],[1.8,-4.5],[18,-3.1],[19,-4.5],[-.8,-6.7],[2.7,-6.5],[8.5,-6.1],[6.6,-7.1],[11.8,-5.4],[14.9,-10.8]];
const gptTestControl=[[10.1,7],[11.8,6.3],[15.6,5.2],[16.9,4.6],[15.6,4.6],[11.8,5],[11,4],[17.3,3.7],[12,3],[13,3.4],[4.5,2.9],[10.7,2.6],[11.7,2.3],[12.5,2],[16.7,2.6],[9.8,-1],[6,-1],[21,-.5],[20.5,-1.3],[12.4,-2.1],[15.7,-2.9],[14.3,-2.5],[3.9,-5.1],[3.2,-6.7],[11.2,-6.8],[11.2,-7.6],[12.5,-8],[-.1,-8.5],[6.9,-9],[10.8,-8.4],[12.2,-9.3],[2,-10.3],[6.8,-10.9],[6.3,-11.5],[10.8,-11.4],[12.8,-12.1],[12.5,-12.7],[17.9,-5],[17.8,-8.4]];
const gptTestAdrd=[[8.7,6.8],[8.5,5.6],[15.9,5.9],[11.6,4.9],[10.1,1],[6.3,.7],[14.7,.9],[17.8,1],[4.2,-.2],[9.5,-1.3],[17.5,-1.3],[17,-1.6],[14.2,-2.1],[15,-2.8],[3.7,-3.9],[5.6,-3.9],[.2,-4.4],[15.7,-4.8],[8.7,-5.1],[10.1,-5.1],[10.7,-5.7],[3.3,-7.4],[5.4,-7.2],[7.2,-7.7],[8.7,-7],[9.8,-7.2],[10.7,-7.1],[5.6,-9],[2,-10.3],[4.7,-10.6],[8.9,-10.3],[12.6,-10],[5.2,-12.2],[17.8,-8.4]];
const gptSynthControl=[[-31,14],[-30.7,14.1],[-36.8,12],[-30.8,12.3],[-30.4,11.9],[-30.6,11.8],[-31.8,11],[-29.9,10.9],[-36,9.5],[-33.1,9.6],[-29.2,9.5],[-31.6,8.5],[-30.9,8.5],[-33.7,7.3],[-29.6,7.7],[-27.1,7.4],[-27,6.9],[-38.4,6.2],[-34.5,6.5],[-32.2,6.8],[-31.1,6.3],[-27.5,6],[-27,5.8],[-30.6,5.7],[-36.2,5.5],[-35.4,5.4],[-33.9,5],[-32.8,5],[-27.8,5.1],[-27.8,4.6],[-36.8,4.4],[-35.6,4.5],[-34.6,4.4],[-33.5,3.9],[-31.9,4.2],[-30.6,4.8],[-31.2,3.6],[-30.4,3.6],[-27.2,3.8],[-26.2,3.9],[-26.6,3.1],[-35.2,3.4],[-34.5,3.3],[-33.2,3.4],[-32.5,3],[-36,2.6],[-34.8,2.4],[-33.4,2.6],[-36.2,2.2],[-32,2.2],[-30.9,2],[-35.2,1.5],[-33.6,1.3],[-34.1,.9],[-33.6,.3],[-34,3.6],[-36.4,3.9],[-32.2,8.6],[-35.6,9.6],[-34.9,3.9],[-33.9,3.1],[-35.8,3.1],[-34.4,2.8],[-33.1,4.4],[-35.1,2.8],[-32.8,3.8],[-31.5,3.1],[-36.4,4.8],[-35,4.9]];
const gptSynthAdrd=[[-33.6,14.7],[-32.4,14.6],[-34,13.5],[-33,13.7],[-32.1,12.9],[-35.6,12.6],[-31.8,11.9],[-34.9,11.5],[-32.8,11],[-31,10.9],[-34.5,9.9],[-35.4,9.2],[-29.2,8.9],[-33.8,8.3],[-33,7.9],[-34.4,7.8],[-37.1,8],[-37.1,7],[-35,7.3],[-35.7,6.9],[-33.8,7],[-32,6.8],[-38.5,6.3],[-32.5,6],[-37,5.3],[-27,5.7],[-33,5.6],[-34,5],[-39,4.4],[-36,4],[-33.8,4.1],[-38.7,3.3],[-35,3.5],[-33.2,3.2],[-37.3,2.7],[-35.5,2.2],[-32.9,2.3],[-31.6,2.2],[-37.2,1.5],[-34,1.3],[-33.2,1.1],[-35.6,.2],[-36.6,2.3]];

const NS='http://www.w3.org/2000/svg';
const root=document.getElementById('charts');
function linear(d0,r0,d1,r1){return function(v){return r0+(v-d0)*(r1-r0)/(d1-d0);};}
function make(tag,parent,attrs){
  const node=document.createElementNS(NS,tag);
  for(const k in attrs){node.setAttribute(k,attrs[k]);}
  parent.appendChild(node);
  return node;
}
const SANS='"Liberation Sans", sans-serif';
const SERIF='"Liberation Serif", serif';
const TICK='#1e2b4f';
const GRID='#e9edf5';
const ZERO='#e3e8f3';

function drawGrid(group,ticks,y,x0,x1,fmt,fs,labelX,prefix){
  ticks.forEach(function(t){
    const line=make('line',group,{x1:x0,x2:x1,y1:y(t),y2:y(t),stroke:t===0?ZERO:GRID,'stroke-width':t===0?3:2});
    
    
    const label=make('text',group,{x:labelX,y:y(t)+fs*0.34,'text-anchor':'end','font-family':SANS,'font-size':fs,fill:TICK});
    
    
    label.textContent=fmt(t);
  });
}

/* simple bar panels A and B */
function drawBars(prefix,cats,vals,colors,textColors,ticks,fmt,x0,x1,y,labelX,gridLeft,gridRight){
  const group=make('g',root,{});
  
  
  drawGrid(group,ticks,y,gridLeft,gridRight,fmt,18.3,labelX,prefix);
  const band=(x1-x0)/cats.length;
  const bx=function(i){return x0+band*(i+0.5);};
  vals.forEach(function(v,i){
    const bar=make('rect',group,{x:bx(i)-band*0.25,y:y(v),width:band*0.5,height:y(0)-y(v),fill:colors[i]});
    
    
    const val=make('text',group,{x:bx(i),y:y(v)+24.6,'text-anchor':'middle','font-family':SERIF,'font-size':22.7,fill:textColors[i]});
    
    
    val.textContent=v.toFixed(2);
    const cat=make('text',group,{x:bx(i),y:556.5,'text-anchor':'middle','font-family':SANS,'font-size':18.2,fill:TICK});
    
    
    cat.textContent=cats[i];
  });
}
drawBars('f1',f1Categories,f1Values,['#134369','#28a498','#7f154e','#f66b23','#3c3c3c'],['#fff','#fff','#fff','#333','#fff'],f1Ticks,function(t){return String(t);},87.6,909.7,linear(0,536.6,80,23.1),86,87.6,909.7);
drawBars('bertscore',bertCategories,bertValues,['#c5f9cc','#84f097','#58cc98','#37a4a6','#225777'],['#222','#222','#222','#222','#fff'],bertTicks,function(t){return t===0?'0':t.toFixed(1);},1080,1898,linear(0,536.2,0.6,23.1),1078.5,1080,1898);

/* grouped bars panel C */
(function(){
  const group=make('g',root,{});
  
  
  const y=linear(0,1443.6,0.8,789.8);
  drawGrid(group,bleuTicks,y,156,1826,function(t){return t===0?'0':t.toFixed(1);},22,154.5,'bleu');
  const series=[bleuGpt4,bleuMinistral8b,bleuLlama8b,bleuMedAlpaca7b,bleuLlama70b];
  const names=['gpt4','ministral8b','llama8b','medalpaca7b','llama70b'];
  const colors=['#d8ef94','#98db8c','#52b89a','#148aaf','#1c6093'];
  const textColors=['#222','#222','#222','#fff','#fff'];
  const groupW=417.5;
  const barW=66.66;
  const cx=function(i){return 156+groupW*(i+0.5);};
  bleuCategories.forEach(function(cat,i){
    const lab=make('text',group,{x:cx(i),y:1467.5,'text-anchor':'middle','font-family':SANS,'font-size':21.3,fill:TICK});
    
    
    lab.textContent=cat;
    series.forEach(function(vals,s){
      const left=cx(i)-barW*2.5+barW*s;
      const bar=make('rect',group,{x:left+0.5,y:y(vals[i]),width:barW-1,height:y(0)-y(vals[i]),fill:colors[s]});
      
      
      const val=make('text',group,{x:left+barW/2,y:y(vals[i])+27,'text-anchor':'middle','font-family':SERIF,'font-size':23,fill:textColors[s]});
      
      
      val.textContent=vals[i].toFixed(2);
    });
  });
})();

/* scatter panels */
const classColors=['#1c2b33','#1c2b33','#55c2f7','#55c2f7','#f4586a','#f4586a','#2eb07a','#2eb07a'];
const classNames=['train-control','train-adrd','validation-control','validation-adrd','test-control','test-adrd','synthetic-control','synthetic-adrd'];
function tickText(v){return v<0?'\u2212'+Math.abs(v):String(v);}
function drawScatter(prefix,series,xTicks,yTicks,x,y,axisX,axisRight,axisTop,axisBottom,xLabelY,yLabelRight){
  const group=make('g',root,{});
  
  
  const yAxis=make('line',group,{x1:axisX,x2:axisX,y1:axisTop,y2:axisBottom,stroke:'#555','stroke-width':2});
  
  
  const xAxis=make('line',group,{x1:axisX-1,x2:axisRight,y1:axisBottom,y2:axisBottom,stroke:'#555','stroke-width':2});
  
  
  xTicks.forEach(function(t){
    const lab=make('text',group,{x:x(t),y:xLabelY+6.1,'text-anchor':'middle','font-family':SERIF,'font-size':18,fill:'#222'});
    
    
    lab.textContent=tickText(t);
  });
  yTicks.forEach(function(t){
    const lab=make('text',group,{x:yLabelRight,y:y(t)+6.1,'text-anchor':'end','font-family':SERIF,'font-size':18,fill:'#222'});
    
    
    lab.textContent=tickText(t);
  });
  series.forEach(function(points,s){
    points.forEach(function(p){
      const px=x(p[0]);
      const py=y(p[1]);
      let mark;
      if(s%2===0){
        mark=make('circle',group,{cx:px,cy:py,r:5.5,fill:classColors[s],'fill-opacity':0.93});
      }else{
        const d='M'+(px-4.5)+' '+(py-4.5)+'L'+(px+4.5)+' '+(py+4.5)+'M'+(px-4.5)+' '+(py+4.5)+'L'+(px+4.5)+' '+(py-4.5);
        mark=make('path',group,{d:d,fill:'none',stroke:classColors[s],'stroke-width':4.2,'stroke-opacity':0.93});
      }
      
      
    });
  });
}
drawScatter('medalpaca7b',[medTrainControl,medTrainAdrd,medValControl,medValAdrd,medTestControl,medTestAdrd,medSynthControl,medSynthAdrd],medTicksX,medTicksY,linear(0,374.7,10,525.7),linear(0,1870,10,1781.7),100,616,1613.3,2042.3,2060,94.7);
drawScatter('llama70b',[l70TrainControl,l70TrainAdrd,l70ValControl,l70ValAdrd,l70TestControl,l70TestAdrd,l70SynthControl,l70SynthAdrd],l70TicksX,l70TicksY,linear(0,1009,20,1156.3),linear(0,1819.7,10,1687.3),701.6,1218,1613.3,2042.3,2060,696.7);
drawScatter('llama8b',[l8TrainControl,l8TrainAdrd,l8ValControl,l8ValAdrd,l8TestControl,l8TestAdrd,l8SynthControl,l8SynthAdrd],l8TicksX,l8TicksY,linear(0,1565.3,20,1687.7),linear(0,1800.7,20,1680),1303.2,1820,1613.3,2042.3,2060,1298.7);
drawScatter('ministral8b',[minTrainControl,minTrainAdrd,minValControl,minValAdrd,minTestControl,minTestAdrd,minSynthControl,minSynthAdrd],minTicksX,minTicksY,linear(0,338.8,10,449),linear(0,2356,10,2287.3),100,616,2136.7,2565.3,2582.7,94.7);
drawScatter('gpt4',[gptTrainControl,gptTrainAdrd,gptValControl,gptValAdrd,gptTestControl,gptTestAdrd,gptSynthControl,gptSynthAdrd],gptTicksX,gptTicksY,linear(0,1026.9,20,1172.7),linear(0,2358.3,10,2227.3),701.6,1218,2136.7,2565.3,2582.7,696.3);
</script>
</body>
</html>
